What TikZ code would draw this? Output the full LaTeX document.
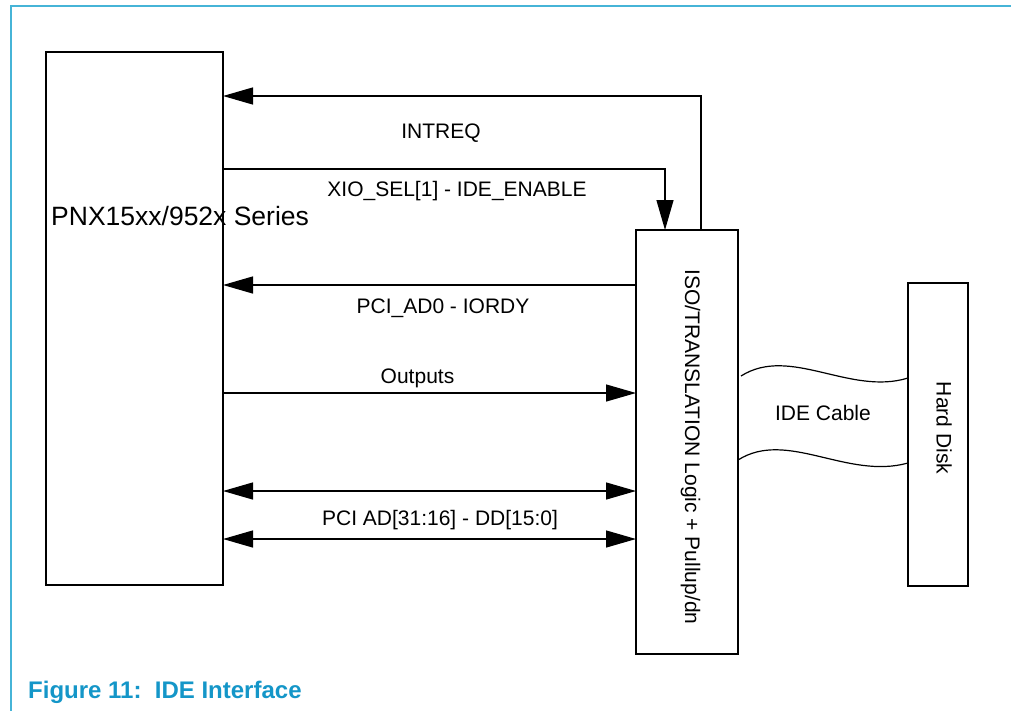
\documentclass[tikz,border=0pt]{standalone}
\usepackage{fontspec}
\setmainfont{Liberation Sans}
\usetikzlibrary{arrows.meta}
\definecolor{framecol}{RGB}{70,180,215}
\definecolor{capcol}{RGB}{20,150,200}
\begin{document}
\begin{tikzpicture}[x=1pt,y=-1pt,
  box/.style={draw,line width=1.4pt,inner sep=0pt,outer sep=0pt,anchor=north west},
  wire/.style={line width=1.3pt},
  tip/.style={-{Triangle[length=30pt,width=17pt]}},
  bitip/.style={{Triangle[length=30pt,width=17pt]}-{Triangle[length=30pt,width=17pt]}},
  lbl/.style={font=\fontsize{21}{25}\selectfont,anchor=base,inner sep=0pt}]
\useasboundingbox (0,0) rectangle (1011,710);
\draw[framecol,line width=1.5pt] (11,712) -- (11,6) -- (1013,6);
% boxes
\node[box,minimum width=177pt,minimum height=533pt] (pnx) at (46,52) {};
\node[box,minimum width=102pt,minimum height=424pt] (iso) at (636,230) {};
\node[box,minimum width=60pt,minimum height=303pt] (hdd) at (908,283) {};
% connectors
\coordinate (intreqcorner) at (701,96);
\draw[wire,tip] (iso.north -| intreqcorner) -- (intreqcorner) -- (pnx.east |- intreqcorner);
\coordinate (xiocorner) at (665,169);
\draw[wire,tip] (pnx.east |- xiocorner) -- (xiocorner) -- (iso.north -| xiocorner);
\coordinate (iordy) at (0,285);
\draw[wire,tip] (iso.west |- iordy) -- (pnx.east |- iordy);
\coordinate (outy) at (0,393);
\draw[wire,tip] (pnx.east |- outy) -- (iso.west |- outy);
\coordinate (pcia) at (0,491);
\coordinate (pcib) at (0,539);
\draw[wire,bitip] (pnx.east |- pcia) -- (iso.west |- pcia);
\draw[wire,bitip] (pnx.east |- pcib) -- (iso.west |- pcib);
% cable
\coordinate (c1s) at (741,376);
\coordinate (c1e) at (908,378);
\coordinate (c2s) at (738,460);
\coordinate (c2e) at (908,463);
\draw[line width=1.2pt] (c1s) .. controls (790,345) and (850,396) .. (c1e);
\draw[line width=1.2pt] (c2s) .. controls (787,429) and (847,480) .. (c2e);
% labels
\node[lbl] (intreq) at (441,138) {INTREQ};
\node[lbl] (xio) at (457,196) {XIO\_SEL[1] - IDE\_ENABLE};
\node[lbl] (iordyl) at (443,313) {PCI\_AD0 - IORDY};
\node[lbl] (outl) at (417.5,383) {Outputs};
\node[lbl] (pcil) at (440,525) {PCI AD[31:16] - DD[15:0]};
\node[lbl] (cable) at (823,420) {IDE Cable};
\node[lbl,rotate=-90] (isol) at (685,447) {ISO/TRANSLATION Logic + Pullup/dn};
\node[lbl,rotate=-90] (hddl) at (936.5,428) {Hard Disk};
\node[font=\fontsize{26.5}{30}\selectfont,anchor=base west,inner sep=0pt] (pnxl) at (51,225) {PNX15xx/952x Series};
\node[font=\fontsize{24}{28}\selectfont\bfseries,text=capcol,anchor=base west,inner sep=0pt] (cap) at (28,698) {Figure 11:\ \ IDE Interface};
\end{tikzpicture}
\end{document}
